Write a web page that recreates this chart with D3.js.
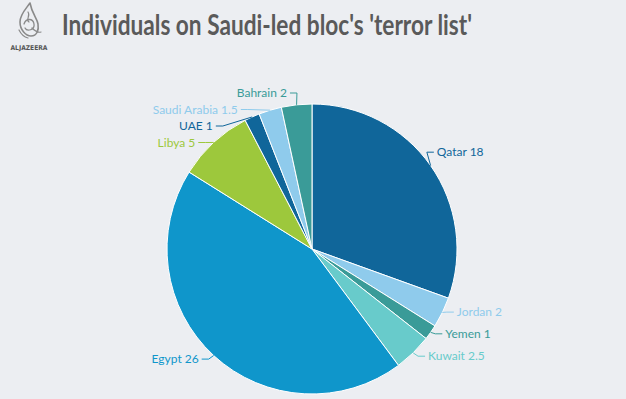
<!DOCTYPE html>
<html>
<head>
<meta charset="utf-8">
<script src="https://cdn.jsdelivr.net/npm/d3@7"></script>
<style>
  html, body { margin: 0; padding: 0; background: #eceef2; }
  svg { display: block; }
</style>
</head>
<body>
<svg width="626" height="399"></svg>
<script>
(function(d3) {
    "use strict";

    // data, clockwise from 12 o'clock
    var categories = ["Qatar", "Jordan", "Yemen", "Kuwait", "Egypt", "Libya", "UAE", "Saudi Arabia", "Bahrain"],
        values = [18, 2, 1, 2.5, 26, 5, 1, 1.5, 2],
        colors = ["#10669a", "#8fcbec", "#3a9b98", "#68cbcb", "#0f96cb", "#9dc83c", "#10669a", "#8fcbec", "#3a9b98"],
        title = "Individuals on Saudi-led bloc's 'terror list'";

    var svg = d3.select("svg"),
        width = +svg.attr("width"),
        cx = 312,
        cy = 249,
        r = 145,
        labelR = 158,
        labelGap = 16.5,
        labelTop = 93,
        font = "Lato, 'Open Sans', sans-serif";

    var data = categories.map(function(c, i) {
        return { name: c, value: values[i], color: colors[i] };
    });

    // header: logo + title
    var logo = svg.append("g").attr("transform", "translate(29, 0)").attr("fill", "none")
        .attr("stroke", "#8a8a8a").attr("stroke-linecap", "round");
    logo.append("path").attr("stroke-width", 1.6)
        .attr("d", "M1,3 C-3,9 -9,14 -9,22 C-9,30 -3,36 2,36 C8,36 10,30 9,24 C8,18 3,14 1,3");
    logo.append("path").attr("stroke-width", 1.3)
        .attr("d", "M-5,24 C-3,18 4,18 5,24 C6,30 -2,32 -4,28");
    logo.append("path").attr("stroke-width", 1.2)
        .attr("d", "M-1,12 C2,16 -4,20 0,22 M3,28 C6,31 9,33 12,32 M-10,30 C-8,34 -5,37 -1,38");
    svg.append("text")
        .attr("x", 29).attr("y", 50)
        .attr("text-anchor", "middle")
        .attr("font-family", "'DejaVu Sans', sans-serif")
        .attr("font-weight", "bold")
        .attr("font-size", 6.6)
        .attr("fill", "#555")
        .attr("textLength", 37)
        .attr("lengthAdjust", "spacingAndGlyphs")
        .text("ALJAZEERA");

    svg.append("text")
        .attr("x", 62).attr("y", 35)
        .attr("font-family", font)
        .attr("font-weight", "bold")
        .attr("font-size", 28)
        .attr("fill", "#5a5a5a")
        .attr("textLength", 410)
        .attr("lengthAdjust", "spacingAndGlyphs")
        .text(title);

    // pie
    var pie = d3.pie().sort(null).value(function(d) { return d.value; }),
        arc = d3.arc().innerRadius(0).outerRadius(r),
        arcs = pie(data);

    var g = svg.append("g").attr("transform", "translate(" + cx + "," + cy + ")");

    g.selectAll(".slice")
        .data(arcs)
        .enter().append("path")
        .attr("class", "slice")
        .attr("d", arc)
        .attr("fill", function(d) { return d.data.color; })
        .attr("stroke", "#fff")
        .attr("stroke-width", 1)
        .attr("stroke-linejoin", "round");

    // label layout: start at the slice angle, then push apart on each side
    arcs.forEach(function(d) {
        d.mid = (d.startAngle + d.endAngle) / 2;
        d.side = Math.sin(d.mid) >= 0 ? 1 : -1;
        d.ly = cy - labelR * Math.cos(d.mid) - 6;
    });
    [1, -1].forEach(function(side) {
        var prev = -Infinity;
        arcs.filter(function(d) { return d.side === side; })
            .sort(function(a, b) { return a.ly - b.ly; })
            .forEach(function(d) {
                d.ly = Math.max(d.ly, prev + labelGap, labelTop);
                prev = d.ly;
            });
    });
    arcs.forEach(function(d) {
        var dy = d.ly - cy;
        d.lx = cx + d.side * Math.sqrt(Math.max(0, labelR * labelR - dy * dy));
        d.ex = cx + r * Math.sin(d.mid);
        d.ey = cy - r * Math.cos(d.mid);
    });

    var line = d3.line();

    svg.selectAll(".connector")
        .data(arcs)
        .enter().append("path")
        .attr("class", "connector")
        .attr("fill", "none")
        .attr("stroke", function(d) { return d.data.color; })
        .attr("stroke-width", 1)
        .attr("d", function(d) {
            var x0 = d.lx - d.side * 3;
            return line([[x0, d.ly], [x0 - d.side * 7, d.ly], [d.ex, d.ey]]);
        });

    svg.selectAll(".label")
        .data(arcs)
        .enter().append("text")
        .attr("class", "label")
        .attr("x", function(d) { return d.lx; })
        .attr("y", function(d) { return d.ly; })
        .attr("dy", "0.35em")
        .attr("text-anchor", function(d) { return d.side > 0 ? "start" : "end"; })
        .attr("font-family", font)
        .attr("font-size", 12)
        .attr("fill", function(d) { return d.data.color; })
        .text(function(d) { return d.data.name + " " + d.data.value; });

}(d3));
</script>
</body>
</html>
